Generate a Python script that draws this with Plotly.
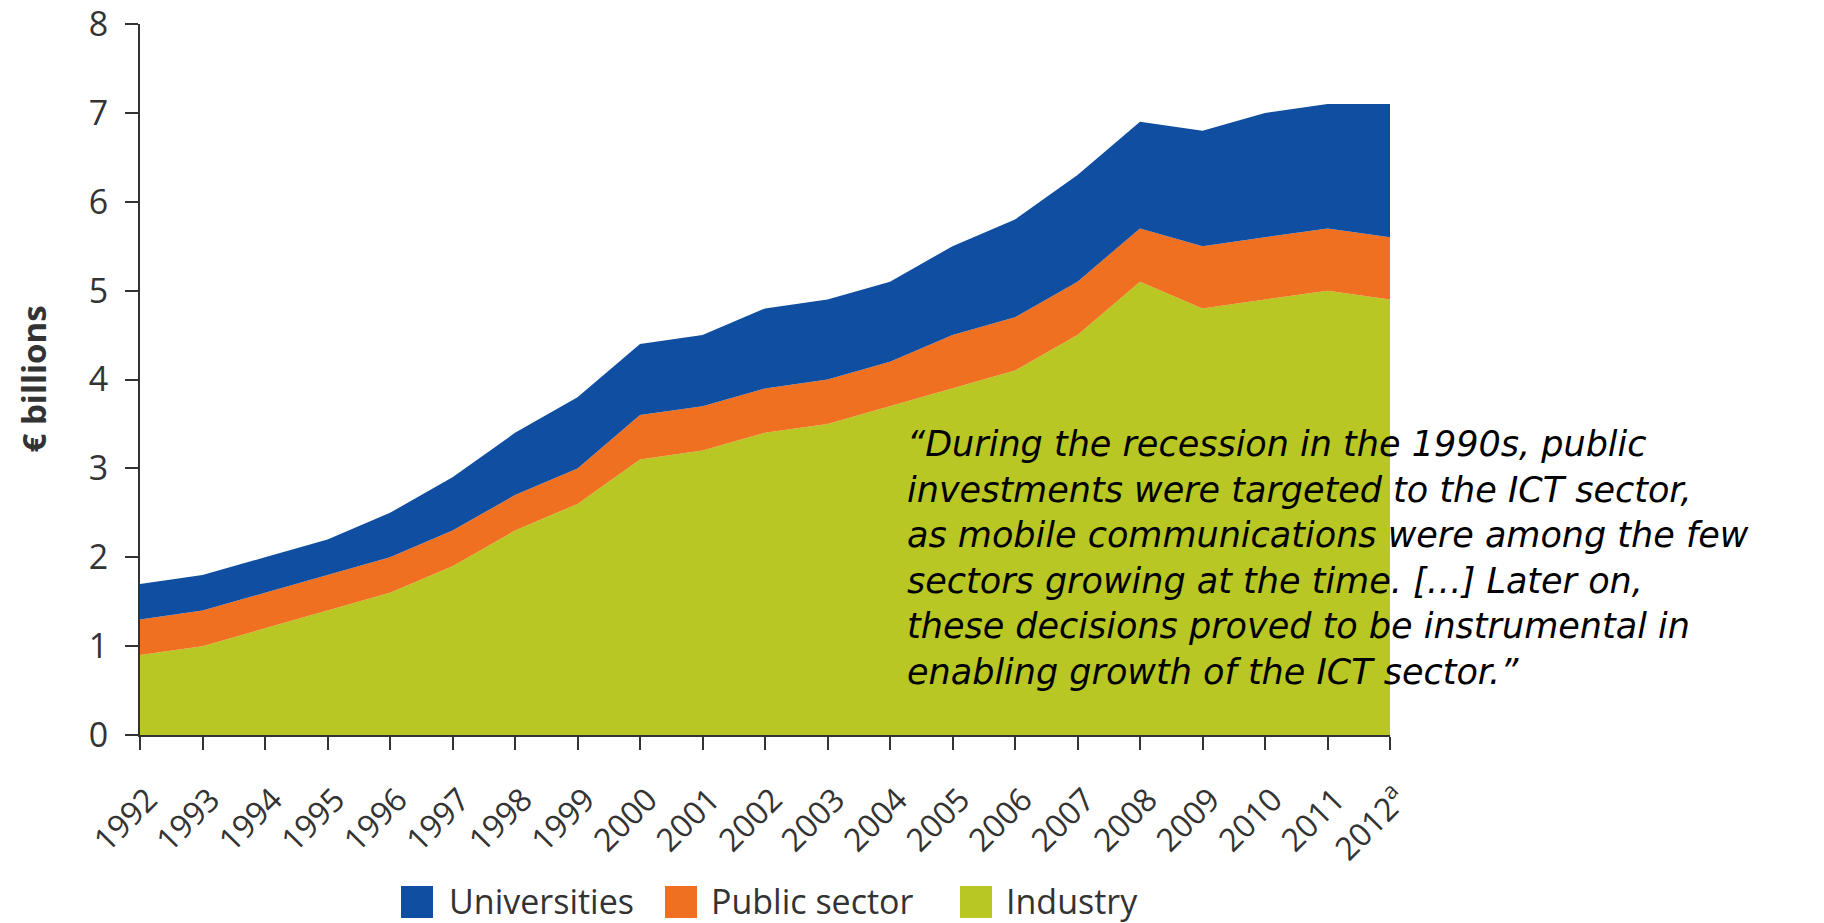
import plotly.graph_objects as go

years = [str(y) for y in range(1992, 2013)]
tick_labels = [str(y) for y in range(1992, 2012)] + ["2012<sup>a</sup>"]
industry = [0.9, 1.0, 1.2, 1.4, 1.6, 1.9, 2.3, 2.6, 3.1, 3.2, 3.4, 3.5, 3.7, 3.9, 4.1, 4.5, 5.1, 4.8, 4.9, 5.0, 4.9]
public_sector = [0.4, 0.4, 0.4, 0.4, 0.4, 0.4, 0.4, 0.4, 0.5, 0.5, 0.5, 0.5, 0.5, 0.6, 0.6, 0.6, 0.6, 0.7, 0.7, 0.7, 0.7]
universities = [0.4, 0.4, 0.4, 0.4, 0.5, 0.6, 0.7, 0.8, 0.8, 0.8, 0.9, 0.9, 0.9, 1.0, 1.1, 1.2, 1.2, 1.3, 1.4, 1.4, 1.5]

C_UNI = "#0F4EA1"
C_PUB = "#F07022"
C_IND = "#B8C724"

quote = ("\u201cDuring the recession in the 1990s, public<br>"
         "investments were targeted to the ICT sector,<br>"
         "as mobile communications were among the few<br>"
         "sectors growing at the time. [\u2026] Later on,<br>"
         "these decisions proved to be instrumental in<br>"
         "enabling growth of the ICT sector.\u201d")

x_idx = list(range(len(years)))

fig = go.Figure()
for name, vals, col in [("Industry", industry, C_IND),
                        ("Public sector", public_sector, C_PUB),
                        ("Universities", universities, C_UNI)]:
    fig.add_trace(go.Scatter(x=x_idx, y=vals, name=name, stackgroup="one",
                             mode="lines", line=dict(width=0, color=col),
                             fillcolor=col, showlegend=False, hoverinfo="x+y+name"))

W, H = 1824, 923
L, R, T, B = 140, 434, 24, 188

FONT = "Open Sans, Arial, sans-serif"
GREY = "#333333"

fig.update_layout(
    width=W, height=H,
    margin=dict(l=L, r=R, t=T, b=B, autoexpand=False),
    paper_bgcolor="white", plot_bgcolor="white",
    showlegend=False,
    xaxis=dict(range=[0, len(years) - 1], tickmode="array", tickvals=x_idx,
               ticktext=tick_labels, tickangle=-45, showgrid=False, zeroline=False,
               showline=True, linecolor=GREY, linewidth=2,
               ticks="outside", ticklen=13, tickwidth=2, tickcolor=GREY,
               tickfont=dict(family=FONT, size=32, color=GREY), automargin=False,
               ticklabelstandoff=18, ticklabelshift=8, ticklabeloverflow="allow"),
    yaxis=dict(range=[0, 8], tickmode="array", tickvals=list(range(0, 9)),
               showgrid=False, zeroline=False, showline=True, linecolor=GREY,
               linewidth=2, ticks="outside", ticklen=13, tickwidth=2,
               tickcolor=GREY, tickfont=dict(family=FONT, size=34, color=GREY),
               ticklabelstandoff=10, automargin=False, ticklabeloverflow="allow"),
)

ph = H - T - B
pw = W - L - R

def px_x(p):
    return (p - L) / pw

def px_y(p):
    return (H - B - p) / ph

# y-axis title
fig.add_annotation(text="<b>\u20ac billions</b>", xref="paper", yref="paper",
                   x=px_x(33), y=0.5, xanchor="center", yanchor="middle",
                   textangle=-90, showarrow=False,
                   font=dict(family=FONT, size=33, color=GREY))

# quote
fig.add_annotation(text="<i>" + quote + "</i>", xref="paper", yref="paper",
                   x=px_x(905), y=px_y(422), xanchor="left", yanchor="top",
                   align="left", showarrow=False,
                   font=dict(family="DejaVu Sans, Verdana, sans-serif", size=35, color="#000000"))

# legend (manual)
legend_items = [("Universities", C_UNI, 401, 447),
                ("Public sector", C_PUB, 665, 709),
                ("Industry", C_IND, 960, 1004)]
for label, col, bx, tx in legend_items:
    fig.add_shape(type="rect", xref="paper", yref="paper",
                  x0=px_x(bx), x1=px_x(bx + 32), y0=px_y(918), y1=px_y(886),
                  fillcolor=col, line=dict(width=0))
    fig.add_annotation(text=label, xref="paper", yref="paper",
                       x=px_x(tx), y=px_y(901), xanchor="left", yanchor="middle",
                       showarrow=False,
                       font=dict(family=FONT, size=34, color=GREY))

fig.write_html("out.html")
